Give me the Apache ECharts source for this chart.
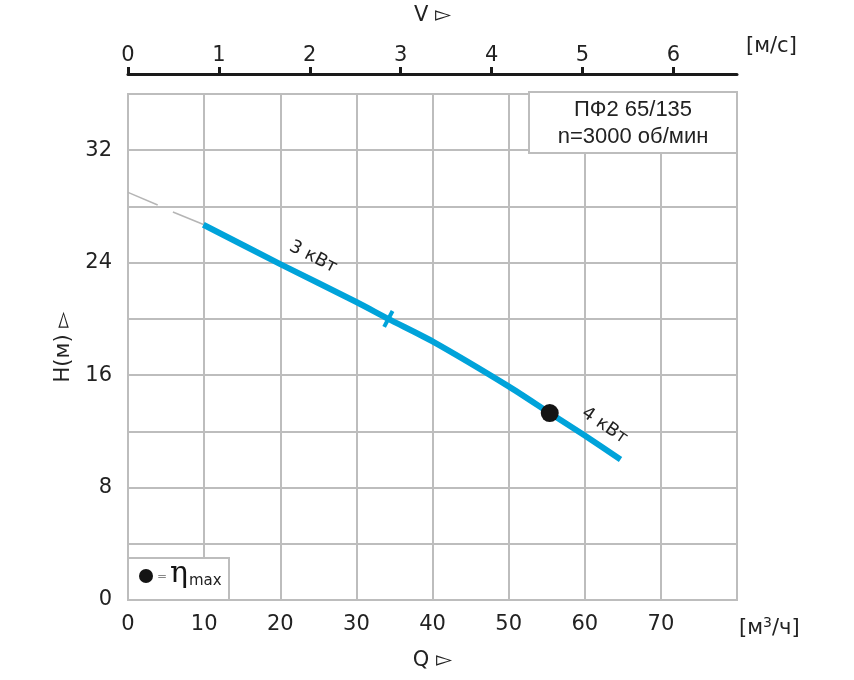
<!DOCTYPE html>
<html>
<head>
<meta charset="utf-8">
<script src="https://cdn.jsdelivr.net/npm/echarts@6/dist/echarts.min.js"></script>
<style>
  html, body { margin: 0; background: #fff; }
  #chart { width: 854px; height: 680px; }
</style>
</head>
<body>
<div id="chart"></div>
<script>
// guide (thin grey) part of the curve, broken in two pieces
const guideQ = [0, 3.9, 5.9, 10];
const guideH = [29.0, 28.1, 27.6, 26.7];
// working range of the curve
const curveQ = [9.9, 20, 30, 34.2, 40, 50, 55.4, 60, 64.7];
const curveH = [26.7, 23.9, 21.2, 20.0, 18.4, 15.2, 13.3, 11.7, 10.0];
// motor change point (3 kW -> 4 kW) and best efficiency point
const splitQ = 34.2, splitH = 20.0;
const bepQ = 55.4, bepH = 13.3;
// power labels along the curve
const powerText = ['3 кВт', '4 кВт'];
const powerQ = [24.3, 62.6];
const powerH = [24.4, 12.4];
const powerRot = [-27, -34];
// velocity scale ticks
const vTicks = [0, 1, 2, 3, 4, 5, 6];

const font = 'DejaVu Sans';
const ink = '#222';
const gridGrey = '#bdbdbd';
const blue = '#00a3da';

const chart = echarts.init(document.getElementById('chart'));

const pair = (qs, hs) => qs.map((q, i) => [q, hs[i]]);

chart.setOption({
  backgroundColor: '#fff',
  animation: false,
  grid: {
    left: 128, right: 117, top: 92, bottom: 80,
    show: true, borderColor: gridGrey, borderWidth: 2, backgroundColor: '#fff'
  },
  xAxis: [{
    type: 'value', min: 0, max: 80, interval: 10, position: 'bottom',
    name: 'Q ▻', nameLocation: 'middle', nameGap: 50,
    nameTextStyle: { fontFamily: font, fontSize: 21, color: ink },
    axisLine: { show: false }, axisTick: { show: false },
    axisLabel: { fontFamily: font, fontSize: 21, color: ink, margin: 14,
      formatter: v => v === 80 ? '' : v },
    splitLine: { lineStyle: { color: gridGrey, width: 2 } }
  }, {
    type: 'value', min: 0, max: 6.7, interval: 1, position: 'top', offset: 20,
    name: 'V ▻', nameLocation: 'middle', nameGap: 48,
    nameTextStyle: { fontFamily: font, fontSize: 21, color: ink },
    axisLine: { show: true, lineStyle: { color: '#1a1a1a', width: 3 } },
    axisTick: { show: true, length: 7, customValues: vTicks,
      lineStyle: { color: '#1a1a1a', width: 3 } },
    axisLabel: { fontFamily: font, fontSize: 21, color: ink, margin: 8,
      customValues: vTicks },
    splitLine: { show: false }
  }],
  yAxis: {
    type: 'value', min: 0, max: 36, interval: 4,
    name: 'H(м) ▻', nameLocation: 'middle', nameGap: 52, nameRotate: 90,
    nameTextStyle: { fontFamily: font, fontSize: 21, color: ink },
    axisLine: { show: false }, axisTick: { show: false },
    axisLabel: { fontFamily: font, fontSize: 21, color: ink, margin: 16,
      formatter: v => v % 8 === 0 && v <= 32 ? v : '' },
    splitLine: { lineStyle: { color: gridGrey, width: 2 } }
  },
  series: [{
    type: 'line', data: pair(guideQ.slice(0, 2), guideH.slice(0, 2)),
    symbol: 'none', lineStyle: { color: '#b5b5b5', width: 1.5 }, z: 3
  }, {
    type: 'line', data: pair(guideQ.slice(2), guideH.slice(2)),
    symbol: 'none', lineStyle: { color: '#b5b5b5', width: 1.5 }, z: 3
  }, {
    type: 'line', data: pair(curveQ, curveH), smooth: 0.25,
    symbol: 'none', lineStyle: { color: blue, width: 6 }, z: 4
  }, {
    type: 'scatter', data: [[splitQ, splitH]],
    symbol: 'rect', symbolSize: [4, 18], symbolRotate: -28,
    itemStyle: { color: blue, opacity: 1 }, z: 5
  }, {
    type: 'scatter', data: [[bepQ, bepH]],
    symbol: 'circle', symbolSize: 18,
    itemStyle: { color: '#141414', opacity: 1 }, z: 6
  }, {
    type: 'scatter', symbolSize: 0, z: 6,
    itemStyle: { opacity: 1 },
    data: powerText.map((t, i) => ({
      value: [powerQ[i], powerH[i]],
      label: { show: true, formatter: t, rotate: powerRot[i], position: 'inside',
        fontFamily: font, fontSize: 18, color: ink, opacity: 1 }
    }))
  }],
  graphic: [
    // unit labels
    { type: 'text', left: 746, top: 36,
      style: { text: '[м/с]', fontFamily: font, fontSize: 21, fill: ink } },
    { type: 'text', left: 739, top: 616,
      style: { text: '[м{s|3}/ч]', fontFamily: font, fontSize: 21, fill: ink,
        rich: { s: { fontSize: 14, verticalAlign: 'top', padding: [0, 0, 12, 0], fontFamily: font, fill: ink } } } },
    // pump info box
    { type: 'rect', shape: { x: 529, y: 92, width: 208, height: 61 }, z: 10,
      style: { fill: '#fff', stroke: gridGrey, lineWidth: 2 } },
    { type: 'text', x: 633, y: 110, z: 11,
      style: { text: 'ПФ2 65/135', fontFamily: 'Liberation Sans Narrow, Liberation Sans', fontSize: 22,
        fill: ink, align: 'center', verticalAlign: 'middle' } },
    { type: 'text', x: 633, y: 137, z: 11,
      style: { text: 'n=3000 об/мин', fontFamily: 'Liberation Sans Narrow, Liberation Sans', fontSize: 22,
        fill: ink, align: 'center', verticalAlign: 'middle' } },
    // efficiency legend box
    { type: 'rect', shape: { x: 128, y: 558, width: 101, height: 42 }, z: 10,
      style: { fill: '#fff', stroke: gridGrey, lineWidth: 2 } },
    { type: 'circle', shape: { cx: 146, cy: 576, r: 7 }, z: 11, style: { fill: '#141414' } },
    { type: 'text', x: 157, y: 577, z: 11,
      style: { text: '=', fontFamily: font, fontSize: 12, fill: '#888', verticalAlign: 'middle' } },
    { type: 'text', x: 170, y: 574, z: 11,
      style: { text: 'η', fontFamily: 'DejaVu Serif', fontSize: 30, fill: '#141414', verticalAlign: 'middle' } },
    { type: 'text', x: 189, y: 581, z: 11,
      style: { text: 'max', fontFamily: font, fontSize: 15, fill: ink, verticalAlign: 'middle' } }
  ]
});
</script>
</body>
</html>
